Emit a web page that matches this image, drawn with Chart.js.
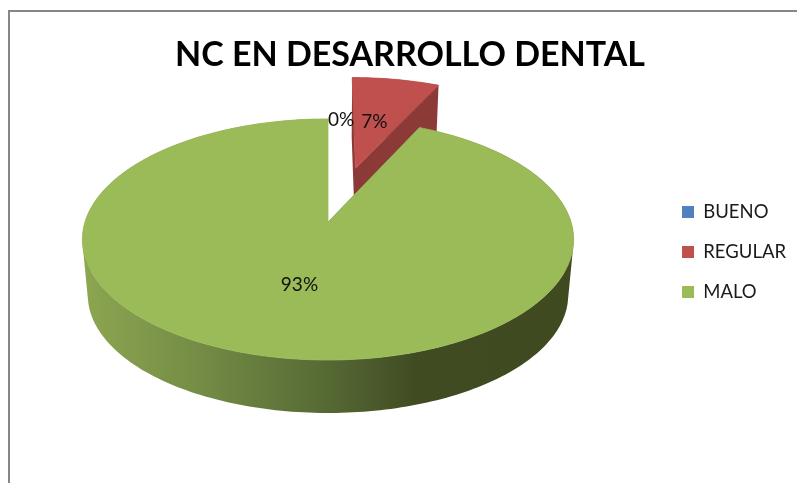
<!DOCTYPE html>
<html>
<head>
<meta charset="utf-8">
<title>NC EN DESARROLLO DENTAL</title>
<script src="https://cdn.jsdelivr.net/npm/chart.js@4"></script>
<style>
  html, body { margin: 0; padding: 0; background: #fff; overflow: hidden; }
  #frame { position: absolute; left: 8px; top: 10px; right: 0; bottom: 0; border-left: 2px solid #868686; border-top: 2px solid #868686; }
  #pieChart { position: absolute; left: 0; top: 0; }
</style>
</head>
<body>
<div id="frame"></div>
<canvas id="pieChart" width="797" height="483"></canvas>
<script>
// Data
const categories = ['BUENO', 'REGULAR', 'MALO'];
const percentages = [0, 7, 93];
const sliceColors = ['#4F81BD', '#C0504D', '#9BBB59'];
const wallColors = ['#3A5F8C', '#8C3A38', null];
const explodedSlices = [1];

// Tilted disc: centre of the top face, half axes and perspective strength
const disc = { x: 328, y: 222, a: 243, b: 118, k: 0.145, explode: 0.5, drift: 0.012 };
// The underside sits lower and slightly smaller than the top face
const underside = { y: 278, scale: 0.978 };

function project(u, v, lower) {
    const w = 1 - disc.k * v;
    const s = lower ? underside.scale : 1;
    const y0 = lower ? underside.y : disc.y;
    return [disc.x + s * disc.a * u / w, y0 + s * disc.b * v / w];
}

function rimPoints(arc, shift, lower) {
    const pts = [];
    const steps = Math.max(2, Math.ceil((arc.endAngle - arc.startAngle) / 0.02));
    for (let i = 0; i <= steps; i++) {
        const a = arc.startAngle + (arc.endAngle - arc.startAngle) * i / steps;
        pts.push(project(shift.u + Math.cos(a), shift.v + Math.sin(a), lower));
    }
    return pts;
}

function addPolygon(ctx, pts) {
    pts.forEach((p, i) => (i ? ctx.lineTo(p[0], p[1]) : ctx.moveTo(p[0], p[1])));
    ctx.closePath();
}

// Same winding for every strip, otherwise overlapping strips cancel under nonzero fill
function addStrip(ctx, pts) {
    let area = 0;
    pts.forEach((p, i) => {
        const q = pts[(i + 1) % pts.length];
        area += p[0] * q[1] - q[0] * p[1];
    });
    addPolygon(ctx, area < 0 ? pts.slice().reverse() : pts);
}

function sliceShift(arc, index) {
    if (!explodedSlices.includes(index)) return { u: 0, v: 0 };
    const mid = (arc.startAngle + arc.endAngle) / 2;
    return { u: disc.explode * Math.cos(mid), v: disc.explode * Math.sin(mid) };
}

function greenWallFill(ctx) {
    const grad = ctx.createLinearGradient(82, 0, 573, 0);
    grad.addColorStop(0, '#8DA651');
    grad.addColorStop(0.24, '#748C45');
    grad.addColorStop(0.5, '#566934');
    grad.addColorStop(0.68, '#404B22');
    grad.addColorStop(1, '#3F4A21');
    return grad;
}

function drawSlice(ctx, arc, index) {
    if (arc.endAngle - arc.startAngle <= 0) return;
    const shift = sliceShift(arc, index);
    if (explodedSlices.includes(index)) shift.u += disc.drift;
    const topRim = rimPoints(arc, shift, false);
    const lowRim = rimPoints(arc, shift, true);
    const topApex = project(shift.u, shift.v, false);
    const lowApex = project(shift.u, shift.v, true);

    // Outer wall as one path of strips, plus the two cut faces
    ctx.fillStyle = wallColors[index] || greenWallFill(ctx);
    ctx.beginPath();
    for (let i = 1; i < topRim.length; i++) {
        addStrip(ctx, [topRim[i - 1], topRim[i], lowRim[i], lowRim[i - 1]]);
    }
    addStrip(ctx, [topApex, topRim[0], lowRim[0], lowApex]);
    addStrip(ctx, [topApex, topRim[topRim.length - 1], lowRim[lowRim.length - 1], lowApex]);
    ctx.fill();

    // Top face, stroked thinly so no wall colour fringes its edge
    ctx.fillStyle = sliceColors[index];
    ctx.strokeStyle = sliceColors[index];
    ctx.lineWidth = 0.8;
    ctx.beginPath();
    addPolygon(ctx, [topApex].concat(topRim));
    ctx.fill();
    ctx.stroke();
}

function drawLabel(ctx, arc, index) {
    const shift = sliceShift(arc, index);
    const mid = (arc.startAngle + arc.endAngle) / 2;
    const empty = arc.endAngle - arc.startAngle <= 0;
    // An empty slice has no room inside, so its label sits on the rim
    const r = empty ? 1 : 0.5;
    const p = project(shift.u + r * Math.cos(mid), shift.v + r * Math.sin(mid), false);
    ctx.textAlign = empty ? 'left' : 'center';
    ctx.fillText(percentages[index] + '%', p[0], p[1] + 1);
}

const pie3d = {
    id: 'pie3d',
    beforeDatasetsDraw(chart) {
        const ctx = chart.ctx;
        const arcs = chart.getDatasetMeta(0).data;
        ctx.save();
        // Exploded slices stand behind the main body of the pie
        arcs.forEach((arc, i) => { if (explodedSlices.includes(i)) drawSlice(ctx, arc, i); });
        arcs.forEach((arc, i) => { if (!explodedSlices.includes(i)) drawSlice(ctx, arc, i); });
        ctx.fillStyle = '#111';
        ctx.font = '19px Lato';
        ctx.textBaseline = 'middle';
        arcs.forEach((arc, i) => drawLabel(ctx, arc, i));
        ctx.restore();
        return false;
    }
};

new Chart(document.getElementById('pieChart'), {
    type: 'pie',
    data: {
        labels: categories,
        datasets: [{
            data: percentages,
            backgroundColor: sliceColors,
            borderWidth: 0
        }]
    },
    plugins: [pie3d],
    options: {
        responsive: false,
        animation: false,
        layout: { padding: { left: 24, right: 1, top: 30, bottom: 9 } },
        plugins: {
            title: {
                display: true,
                text: 'NC EN DESARROLLO DENTAL',
                color: '#000',
                font: { family: 'Lato', size: 34, weight: 'bold' },
                padding: { top: 5, bottom: 0 }
            },
            legend: {
                position: 'right',
                labels: {
                    color: '#1A1A1A',
                    font: { family: 'Lato', size: 18.5 },
                    boxWidth: 12,
                    boxHeight: 12,
                    padding: 21.5
                }
            },
            tooltip: { enabled: false }
        }
    }
});
</script>
</body>
</html>
